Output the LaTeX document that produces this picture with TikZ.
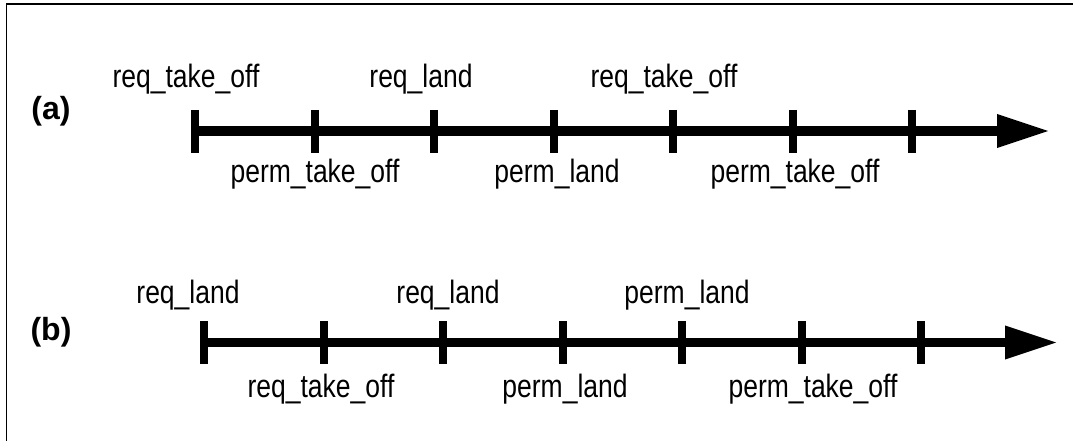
\documentclass[tikz,border=0pt]{standalone}
\usepackage{fontspec}
\usepackage{graphicx}
\setmainfont{Liberation Sans}
\usetikzlibrary{arrows.meta}

\tikzset{
  frame/.style={line width=1.6pt, black},
  axis/.style={line width=9.5pt, -{Triangle[length=53pt,width=31pt]}},
  tick/.style={line width=8pt},
  evlabel/.style={anchor=base, inner sep=0pt, font=\fontsize{26.5}{30}\selectfont},
  rowlabel/.style={anchor=center, inner sep=0pt, font=\fontsize{32}{36}\selectfont\bfseries},
}
\newcommand{\ev}[1]{\scalebox{1}[1.22]{#1}}

\begin{document}
\begin{tikzpicture}[x=1pt, y=-1pt]
  \useasboundingbox (0,0) rectangle (1073,441);
  % open frame: top and left edges
  \draw[frame] (1073,4) -- (6.5,4) -- (6.5,441);

  % ---------- timeline (a) ----------
  \node[rowlabel] (la) at (51,111) {(a)};
  \coordinate (a0) at (195,131);
  \coordinate (aend) at (1050,131);
  \draw[axis] (a0) -- (aend);
  \foreach \i in {0,...,6} {
    \draw[tick] ({195+119.5*\i},110) -- ({195+119.5*\i},153);
  }
  \node[evlabel] (a1) at (186,88) {\ev{req\_take\_off}};
  \node[evlabel] (a2) at (421,88) {\ev{req\_land}};
  \node[evlabel] (a3) at (664,88) {\ev{req\_take\_off}};
  \node[evlabel] (a4) at (315,182) {\ev{perm\_take\_off}};
  \node[evlabel] (a5) at (557,182) {\ev{perm\_land}};
  \node[evlabel] (a6) at (795,182) {\ev{perm\_take\_off}};

  % ---------- timeline (b) ----------
  \node[rowlabel] (lb) at (51,332) {(b)};
  \coordinate (b0) at (204,342.5);
  \coordinate (bend) at (1058,342.5);
  \draw[axis] (b0) -- (bend);
  \foreach \i in {0,...,6} {
    \draw[tick] ({204+119.5*\i},321) -- ({204+119.5*\i},364);
  }
  \node[evlabel] (b1) at (188,303) {\ev{req\_land}};
  \node[evlabel] (b2) at (448,303) {\ev{req\_land}};
  \node[evlabel] (b3) at (687,303) {\ev{perm\_land}};
  \node[evlabel] (b4) at (321,397) {\ev{req\_take\_off}};
  \node[evlabel] (b5) at (565,397) {\ev{perm\_land}};
  \node[evlabel] (b6) at (813,397) {\ev{perm\_take\_off}};
\end{tikzpicture}
\end{document}
